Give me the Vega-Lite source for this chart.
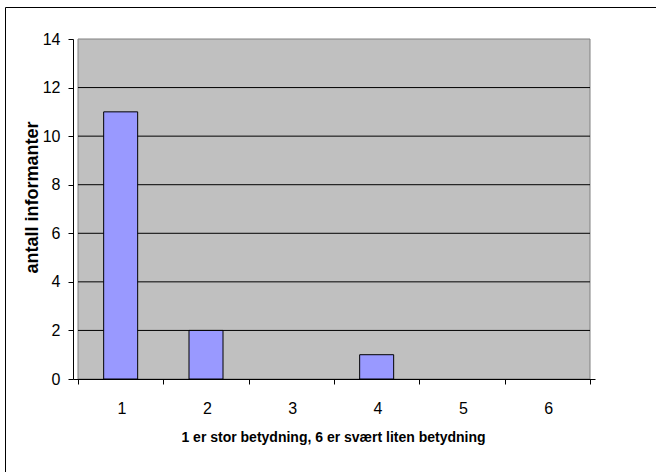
{
  "$schema": "https://vega.github.io/schema/vega-lite/v6.json",
  "width": 660,
  "height": 470,
  "autosize": "none",
  "padding": {"left": 5, "top": 7, "right": 0, "bottom": 0},
  "background": "white",
  "config": {
    "view": {"stroke": "black", "strokeWidth": 1, "fill": "white"},
    "font": "Liberation Sans"
  },
  "data": {
    "values": [
      {"score": 1, "count": 11},
      {"score": 2, "count": 2},
      {"score": 3, "count": 0},
      {"score": 4, "count": 1},
      {"score": 5, "count": 0},
      {"score": 6, "count": 0}
    ]
  },
  "layer": [
    {
      "data": {"values": [{}]},
      "mark": {"type": "rect", "fill": "#C0C0C0", "stroke": "#808080", "strokeWidth": 1},
      "encoding": {
        "x": {"datum": 0.5, "type": "quantitative", "title": "1 er stor betydning, 6 er svært liten betydning"},
        "x2": {"datum": 6.5},
        "y": {"datum": 0, "type": "quantitative", "title": "antall informanter"},
        "y2": {"datum": 14}
      }
    },
    {
      "data": {"values": [{"g": 2}, {"g": 4}, {"g": 6}, {"g": 8}, {"g": 10}, {"g": 12}]},
      "mark": {"type": "rule", "color": "black", "strokeWidth": 1},
      "encoding": {
        "y": {"field": "g", "type": "quantitative", "title": "antall informanter"},
        "x": {"datum": 0.5, "type": "quantitative", "title": "1 er stor betydning, 6 er svært liten betydning"},
        "x2": {"datum": 6.5}
      }
    },
    {
      "transform": [{"filter": "datum.count > 0"}],
      "mark": {"type": "bar", "size": 34, "fill": "#9999FF", "stroke": "black", "strokeWidth": 1},
      "encoding": {
        "x": {
          "field": "score",
          "type": "quantitative",
          "title": "1 er stor betydning, 6 er svært liten betydning",
          "scale": {"domain": [0.5, 6.5], "range": [68, 590], "nice": false, "zero": false},
          "axis": {
            "values": [0.5, 1.5, 2.5, 3.5, 4.5, 5.5, 6.5],
            "labelExpr": "datum.value < 6 ? format(datum.value + 0.5, 'd') : ''",
            "labelOffset": 43.5,
            "labelFlush": false,
            "labelOverlap": false,
            "labelFont": "Liberation Sans",
            "labelFontSize": 16,
            "labelColor": "black",
            "labelPadding": 16,
            "tickSize": 5,
            "tickColor": "black",
            "domainColor": "black",
            "offset": -98,
            "grid": false,
            "zindex": 1,
            "titleFont": "Liberation Sans",
            "titleFontSize": 14,
            "titleFontWeight": "bold",
            "titleColor": "black",
            "titleX": 328,
            "titleY": 58,
            "titleBaseline": "middle",
            "titleAlign": "center"
          }
        },
        "y": {
          "field": "count",
          "type": "quantitative",
          "title": "antall informanter",
          "scale": {"domain": [0, 14], "range": [372, 32], "nice": false, "zero": true},
          "axis": {
            "values": [0, 2, 4, 6, 8, 10, 12, 14],
            "labelFont": "Liberation Sans",
            "labelFontSize": 16,
            "labelColor": "black",
            "labelPadding": 8,
            "tickSize": 5,
            "tickColor": "black",
            "domainColor": "black",
            "offset": -68,
            "grid": false,
            "zindex": 1,
            "titleFont": "Liberation Sans",
            "titleFontSize": 18,
            "titleFontWeight": "bold",
            "titleColor": "black",
            "titleX": -41,
            "titleY": 190,
            "titleBaseline": "middle",
            "titleAlign": "center",
            "titleAngle": -90
          }
        }
      }
    }
  ]
}
